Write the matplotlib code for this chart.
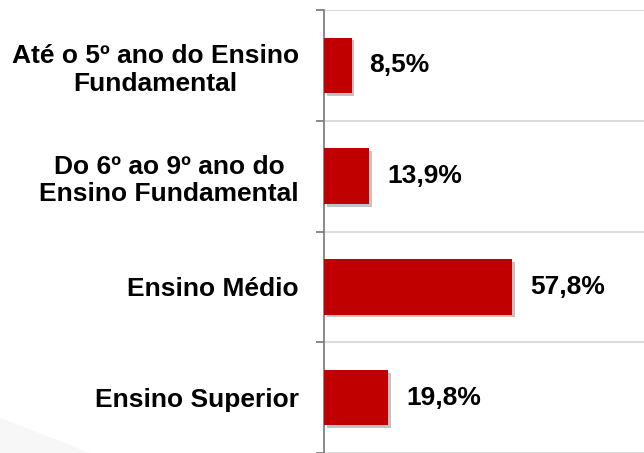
import matplotlib.pyplot as plt
import matplotlib.patheffects as pe
from matplotlib.patches import Polygon

categories = [
    "Até o 5º ano do Ensino\nFundamental",
    "Do 6º ao 9º ano do\nEnsino Fundamental",
    "Ensino Médio",
    "Ensino Superior",
]
values = [8.5, 13.9, 57.8, 19.8]
value_labels = ["8,5%", "13,9%", "57,8%", "19,8%"]

BAR_COLOR = "#C00000"
W, H = 644, 453

plt.rcParams["font.family"] = ["Liberation Sans", "DejaVu Sans"]

fig = plt.figure(figsize=(W / 100, H / 100), dpi=100)

# faint slide background shape, bottom-left
fig.patches.append(Polygon([(0, 0), (0, 35 / H), (90 / W, 0)],
                           closed=True, transform=fig.transFigure,
                           facecolor="#f7f7f7", edgecolor="none", zorder=0))

ax_left = 324 / W
ax_top = 1 - 10 / H
ax = fig.add_axes([ax_left, 0, 1 - ax_left, ax_top])
ax.patch.set_alpha(0)

y = list(range(len(categories)))
bars = ax.barh(y, values, height=0.5, color=BAR_COLOR, zorder=3)
for b in bars:
    b.set_path_effects([pe.SimplePatchShadow(offset=(2, -2), shadow_rgbFace="#555555", alpha=0.35),
                        pe.Normal()])

for yi, v, lab in zip(y, values, value_labels):
    ax.annotate(lab, xy=(v, yi), xytext=(18, 0), textcoords="offset pixels",
                ha="left", va="center", fontsize=19, fontweight="bold", color="black")

cat_px = 112.5
ax.set_ylim(-0.5 + (H - 10) / cat_px, -0.5)
ax.set_xlim(0, (W - 324) / 3.25)

ax.set_yticks(y)
ax.set_yticklabels(categories, fontsize=19, fontweight="bold", multialignment="center",
                   linespacing=1.2)
ax.tick_params(axis="y", which="major", length=0, pad=18)
ax.set_yticks([-0.5, 0.5, 1.5, 2.5, 3.5], minor=True)
ax.tick_params(axis="y", which="minor", length=6, width=1.3, color="#808080")
ax.grid(True, axis="y", which="minor", color="#d9d9d9", linewidth=1.3, zorder=0)
ax.set_xticks([])

for s in ["top", "right", "bottom"]:
    ax.spines[s].set_visible(False)
ax.spines["left"].set_color("#808080")
ax.spines["left"].set_linewidth(1.3)

fig.savefig("out.png", dpi=100)
